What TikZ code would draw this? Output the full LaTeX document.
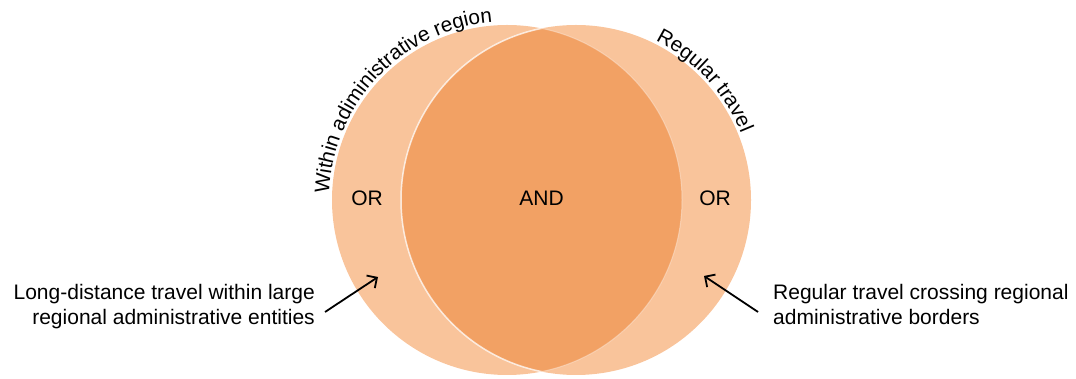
\documentclass[tikz,border=0pt]{standalone}
\usepackage{fontspec}
\setmainfont{Liberation Sans}
\usetikzlibrary{arrows.meta,decorations.text}
\definecolor{lightor}{HTML}{F9C49B}
\definecolor{darkor}{HTML}{F2A164}
\begin{document}
\begin{tikzpicture}[x=1pt,y=1pt,
  font=\fontsize{21}{25}\selectfont,
  lbl/.style={inner sep=0pt},
  arr/.style={-{Straight Barb[length=7.5pt,width=15pt]}, line width=1.8pt, black},
  arctext/.style={decorate, decoration={text along path, text align=left, text={|\fontsize{20.7}{25}\selectfont|#1}}}]
\useasboundingbox (0,0) rectangle (1076,379);
\coordinate (cL) at (507,179);
\coordinate (cR) at (576,179);
\fill[lightor] (cL) circle[radius=175];
\fill[lightor] (cR) circle[radius=175];
\begin{scope}
  \clip (cL) circle[radius=175];
  \fill[darkor] (cR) circle[radius=175];
  \draw[white, opacity=0.75, line width=1.5pt] (cR) circle[radius=175];
\end{scope}
\begin{scope}
  \clip (cR) circle[radius=175];
  \draw[white, opacity=0.35, line width=1pt] (cL) circle[radius=175];
\end{scope}
% curved labels
\path[arctext={Within adiministrative region}] (cL) ++(178:178) arc[start angle=178, end angle=80, radius=178];
\path[arctext={Regular travel}] (cR) ++(63.5:178) arc[start angle=63.5, end angle=5, radius=178];
% inner labels
\node[lbl] (orl) at (367,180.3) {OR};
\node[lbl] (and) at (541.5,180.3) {AND};
\node[lbl] (orr) at (715,180.3) {OR};
% side labels
\node[lbl, anchor=north east, align=right] (ltext) at (315,95) {Long-distance travel within large\\regional administrative entities};
\node[lbl, anchor=north west, align=left] (rtext) at (773,95) {Regular travel crossing regional\\administrative borders};
% arrows
\coordinate (ls) at (325,67);
\coordinate (la) at (378,102);
\coordinate (rs) at (758,67);
\coordinate (ra) at (704,103);
\draw[arr] (ls) -- (la);
\draw[arr] (rs) -- (ra);
\end{tikzpicture}
\end{document}
